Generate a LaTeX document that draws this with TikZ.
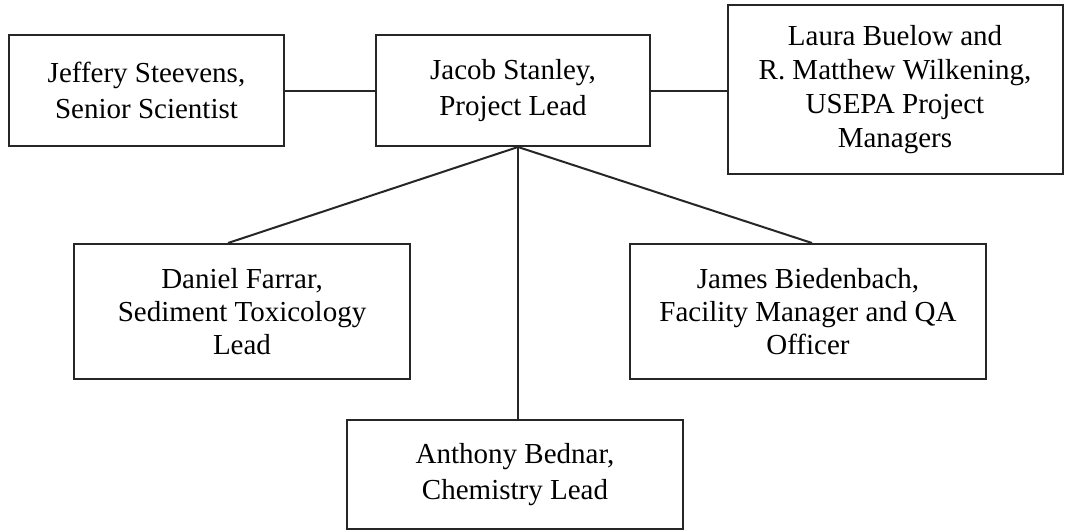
\documentclass[tikz,border=0pt]{standalone}
\usepackage{fontspec}
\setmainfont{Liberation Serif}
\usetikzlibrary{positioning}

\begin{document}
\begin{tikzpicture}[x=1pt,y=1pt,
  member/.style={draw=black!85, line width=2pt, align=center,
    font=\fontsize{29}{36}\selectfont, inner sep=0pt},
  link/.style={draw=black!85, line width=2pt}]
  \useasboundingbox (0,0) rectangle (1065,-531);

  % Top row
  \node[member, minimum width=275pt, minimum height=111pt] (steevens)
    at (146.5,-90.5) {Jeffery Steevens,\\Senior Scientist};
  \node[member, minimum width=274pt, minimum height=111pt] (stanley)
    at (513,-90.5) {Jacob Stanley,\\Project Lead};
  \node[member, minimum width=335pt, minimum height=169pt,
    font=\fontsize{29}{34}\selectfont] (buelow)
    at (895,-89.5) {Laura Buelow and\\R. Matthew Wilkening,\\USEPA Project\\Managers};

  % Middle row
  \node[member, minimum width=336pt, minimum height=135pt,
    font=\fontsize{29}{33}\selectfont] (farrar)
    at (242,-311.5) {Daniel Farrar,\\Sediment Toxicology\\Lead};
  \node[member, minimum width=356pt, minimum height=135pt,
    font=\fontsize{29}{33}\selectfont] (biedenbach)
    at (808,-311.5) {James Biedenbach,\\Facility Manager and QA\\Officer};

  % Bottom
  \node[member, minimum width=336pt, minimum height=109pt] (bednar)
    at (515,-474.5) {Anthony Bednar,\\Chemistry Lead};

  % Links
  \coordinate (hub) at ([xshift=5pt]stanley.south);
  \draw[link] (steevens) -- (stanley);
  \draw[link] (stanley.east) -- (stanley.east -| buelow.west);
  \draw[link] (hub) -- ([xshift=-14pt]farrar.north);
  \draw[link] (hub) -- ([xshift=4pt]biedenbach.north);
  \draw[link] (hub) -- (hub |- bednar.north);
\end{tikzpicture}
\end{document}
